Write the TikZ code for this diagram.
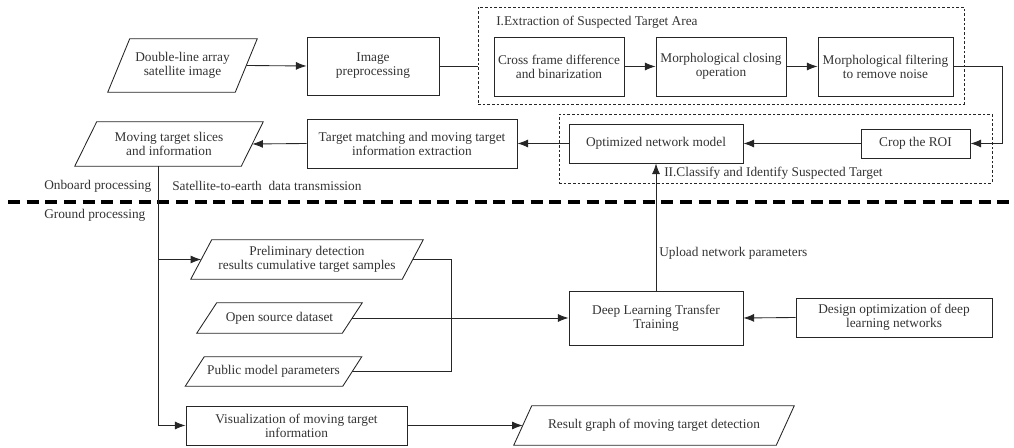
\documentclass[tikz,border=0pt]{standalone}
\usepackage{fontspec}
\setmainfont{Liberation Serif}
\usetikzlibrary{arrows.meta,calc}
\def\PX{0.75pt}
\colorlet{ln}{black!85}
\colorlet{tx}{black!80}
\tikzset{
  box/.style={draw=ln, line width=0.65pt, inner sep=0pt, align=center, text=tx},
  para/.style={inner sep=0pt, align=center, text=tx},
  conn/.style={draw=ln, line width=0.65pt},
  arr/.style={conn, -{Latex[length=8pt,width=6pt]}},
  grp/.style={draw=ln, line width=0.6pt, dash pattern=on 2pt off 1.5pt, inner sep=0pt},
  lbl/.style={inner sep=0pt, anchor=west, text=tx},
}
\newcommand{\parabox}[2]{% name, half slant in px
  \draw[draw=ln, line width=0.65pt] ($(#1.north west)+(#2,0)$) -- ($(#1.north east)+(#2,0)$)
    -- ($(#1.south east)-(#2,0)$) -- ($(#1.south west)-(#2,0)$) -- cycle;}
\begin{document}
\begin{tikzpicture}[x=0.75pt,y=-0.75pt,font=\fontsize{10}{10.5}\selectfont]
\useasboundingbox (0,0) rectangle (1014,448);
% group boxes
\node[grp, minimum width=486*\PX, minimum height=97*\PX] (gI) at (721,55.5) {};
\node[grp, minimum width=433*\PX, minimum height=69*\PX] (gII) at (775.5,148.5) {};
\node[lbl] (lI) at (496,22) {I.Extraction of Suspected Target Area};
\node[lbl] (lII) at (664,173) {II.Classify and Identify Suspected Target};
% onboard nodes
\node[para, minimum width=127*\PX, minimum height=53*\PX] (dbl) at (182.5,65.5) {Double-line array\\satellite image};
\parabox{dbl}{11}
\node[box, minimum width=132*\PX, minimum height=58*\PX] (img) at (373,66) {Image\\preprocessing};
\node[box, minimum width=130*\PX, minimum height=59*\PX] (cross) at (559,66.5) {Cross frame difference\\and binarization};
\node[box, minimum width=130*\PX, minimum height=59*\PX] (close) at (721,66.5) {Morphological closing\\operation};
\node[box, minimum width=135*\PX, minimum height=59*\PX] (filt) at (885.5,66.5) {Morphological filtering\\to remove noise};
\node[box, minimum width=109*\PX, minimum height=29*\PX] (crop) at (915.5,143.5) {Crop the ROI};
\node[box, minimum width=174*\PX, minimum height=39*\PX] (opt) at (656,143.5) {Optimized network model};
\node[box, minimum width=210*\PX, minimum height=49*\PX] (match) at (412,143.5) {Target matching and moving target\\information extraction};
\node[para, minimum width=166*\PX, minimum height=44*\PX] (mts) at (169,144) {Moving target slices\\and information};
\parabox{mts}{11}
% separator
\coordinate (sepL) at (8,202);
\coordinate (sepR) at (1014,202);
\draw[line width=2.4pt, dash pattern=on 9pt off 5pt] (sepL) -- (sepR);
\node[lbl] (onb) at (44,186) {Onboard processing};
\node[lbl] (sat) at (172,186) {Satellite-to-earth\ \ data transmission};
\node[lbl] (gnd) at (44,215) {Ground processing};
% ground nodes
\node[para, minimum width=211*\PX, minimum height=39*\PX] (pre) at (307,259.5) {Preliminary detection\\results cumulative target samples};
\parabox{pre}{10.5}
\node[para, minimum width=145*\PX, minimum height=30*\PX] (open) at (279.5,318) {Open source dataset};
\parabox{open}{10}
\node[para, minimum width=157*\PX, minimum height=29*\PX] (pub) at (273.5,371.5) {Public model parameters};
\parabox{pub}{9.5}
\node[box, minimum width=221*\PX, minimum height=39*\PX] (vis) at (296.5,425.5) {Visualization of moving target\\information};
\node[para, minimum width=262*\PX, minimum height=39*\PX] (res) at (654,425.5) {Result graph of moving target detection};
\parabox{res}{9}
\node[box, minimum width=174*\PX, minimum height=54*\PX] (dl) at (656,318) {Deep Learning Transfer\\Training};
\node[box, minimum width=196*\PX, minimum height=39*\PX] (des) at (894,317.5) {Design optimization of deep\\learning networks};
\node[lbl] (up) at (659,253) {Upload network parameters};
% connectors
\coordinate (cR) at (1002,0);
\coordinate (v) at (158,0);
\coordinate (j) at (451,0);
\draw[arr] (dbl.east) -- (img.west);
\draw[conn] (img.east) -- (img.east -| gI.west);
\draw[arr] (cross.east) -- (close.west);
\draw[arr] (close.east) -- (filt.west);
\draw[arr] (filt.east) -- (filt.east -| cR) |- (crop.east);
\draw[arr] (crop.west) -- (opt.east);
\draw[arr] (opt.west) -- (match.east);
\draw[arr] (match.west) -- (mts.east);
\draw[arr] (v |- mts.south) |- (vis.west);
\draw[arr] (v |- pre.west) -- (pre.west);
\draw[conn] (pre.east) -- (pre.east -| j) |- (pub.east);
\draw[arr] (open.east) -- (dl.west);
\draw[arr] (des.west) -- (dl.east);
\draw[arr] (dl.north) -- (opt.south);
\draw[arr] (vis.east) -- (res.west);
\end{tikzpicture}
\end{document}
